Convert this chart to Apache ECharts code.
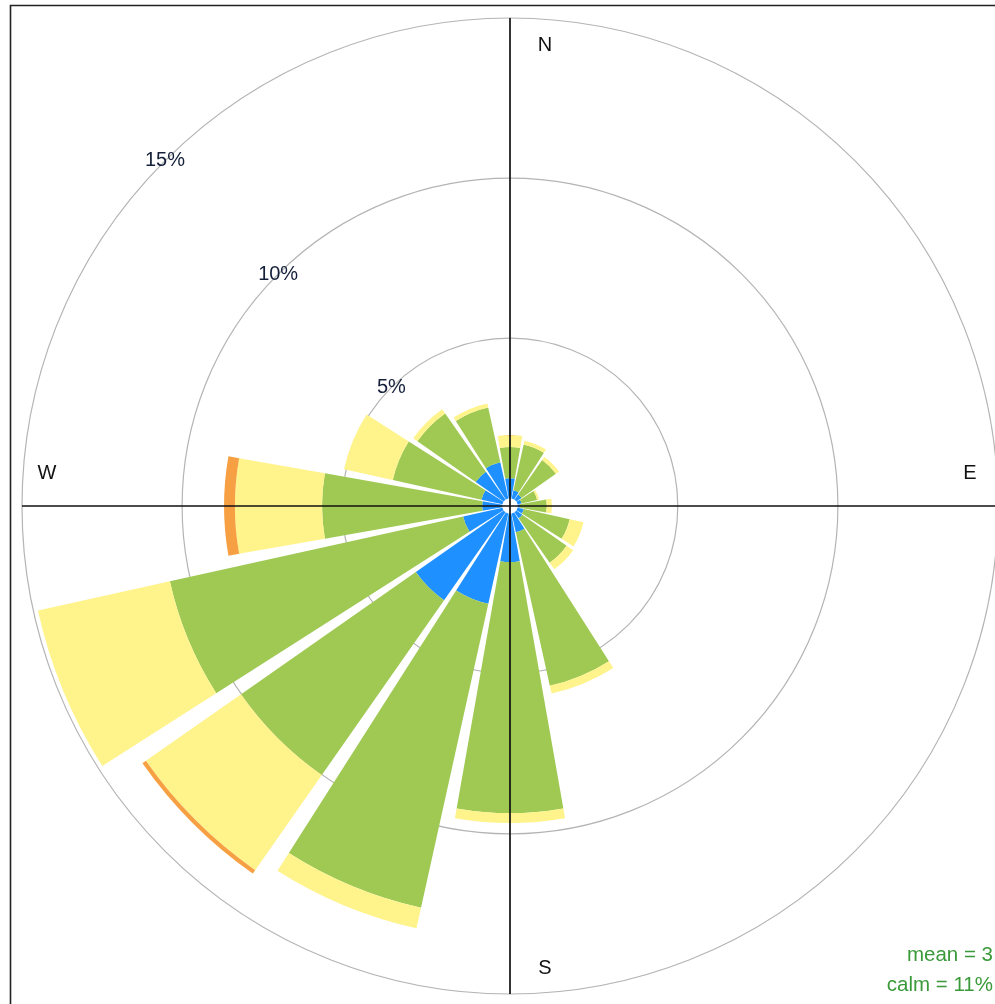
<!DOCTYPE html>
<html>
<head>
<meta charset="utf-8">
<script src="https://cdn.jsdelivr.net/npm/echarts@6/dist/echarts.min.js"></script>
<style>
  html, body { margin: 0; padding: 0; background: #ffffff; }
  #chart { width: 995px; height: 1004px; }
</style>
</head>
<body>
<div id="chart"></div>
<script>
// Wind directions (16 sectors, clockwise from north)
const directions = ['N', 'NNE', 'NE', 'ENE', 'E', 'ESE', 'SE', 'SSE', 'S', 'SSW', 'SW', 'WSW', 'W', 'WNW', 'NW', 'NNW'];

// Frequency (%) per direction for each wind-speed band
const speedBands = ['0 to 2', '2 to 4', '4 to 6', '6 to 8'];
const freqBand1 = [0.63, 0.26, 0.20, 0.13, 0.07, 0.20, 0.23, 0.60, 1.51, 2.89, 3.35, 1.26, 0.63, 0.67, 1.07, 1.16];
const freqBand2 = [0.97, 1.47, 1.31, 0.50, 0.84, 1.47, 1.69, 4.91, 7.84, 9.72, 6.66, 9.38, 5.00, 2.84, 2.22, 1.75];
const freqBand3 = [0.38, 0.12, 0.12, 0.06, 0.16, 0.44, 0.25, 0.25, 0.31, 0.66, 3.63, 4.22, 2.72, 1.56, 0.16, 0.13];
const freqBand4 = [0, 0, 0, 0, 0, 0, 0, 0, 0, 0, 0.13, 0, 0.34, 0, 0, 0];

// Grid rings and their labels
const ringLevels = [5, 10, 15];
const ringLabels = ['5%', '10%', '15%'];

// Summary statistics
const summaryLines = ['mean = 3', 'calm = 11%'];

const bandColors = ['#1E90FF', '#A0C954', '#FFF38C', '#F7A043'];
const bandData = [freqBand1, freqBand2, freqBand3, freqBand4];

const chart = echarts.init(document.getElementById('chart'), null, { renderer: 'canvas' });

const FONT = '"Liberation Sans", Arial, sans-serif';

const barSeries = speedBands.map((name, i) => ({
  name: name,
  type: 'bar',
  coordinateSystem: 'polar',
  stack: 'freq',
  data: bandData[i],
  barCategoryGap: '11%',
  itemStyle: { color: bandColors[i] },
  z: 2,
  silent: true
}));

const option = {
  animation: false,
  backgroundColor: '#ffffff',
  polar: { center: [510, 506], radius: 488 },
  angleAxis: {
    type: 'category',
    data: directions,
    startAngle: 90 + 360 / directions.length / 2,
    clockwise: true,
    axisLine: { show: false },
    axisTick: { show: false },
    axisLabel: { show: false },
    splitLine: { show: false }
  },
  radiusAxis: {
    type: 'value',
    min: -0.24,
    max: 15,
    axisLine: { show: false },
    axisTick: { show: false },
    axisLabel: { show: false },
    splitLine: { show: false }
  },
  series: [
    // concentric frequency rings
    {
      type: 'custom',
      coordinateSystem: 'polar',
      silent: true,
      z: 1,
      data: ringLevels.map(v => [v, 'N']),
      renderItem(params, api) {
        const cs = params.coordSys;
        const p = api.coord([api.value(0), api.value(1)]);
        const r = Math.hypot(p[0] - cs.cx, p[1] - cs.cy);
        return {
          type: 'circle',
          shape: { cx: cs.cx, cy: cs.cy, r: r },
          style: { fill: 'none', stroke: '#b4b4b4', lineWidth: 1.2 }
        };
      }
    },
    ...barSeries,
    // N-S and E-W axis lines
    {
      type: 'custom',
      coordinateSystem: 'polar',
      silent: true,
      z: 5,
      data: [[15, 'N'], [15, 'E']],
      renderItem(params, api) {
        const cs = params.coordSys;
        const p = api.coord([api.value(0), api.value(1)]);
        return {
          type: 'line',
          shape: { x1: p[0], y1: p[1], x2: 2 * cs.cx - p[0], y2: 2 * cs.cy - p[1] },
          style: { stroke: '#111111', lineWidth: 1.7 }
        };
      }
    },
    // ring labels along the north-west diagonal
    {
      type: 'custom',
      coordinateSystem: 'polar',
      silent: true,
      z: 6,
      data: ringLevels.map(v => [v, 'NW']),
      renderItem(params, api) {
        const p = api.coord([api.value(0), api.value(1)]);
        return {
          type: 'text',
          x: p[0],
          y: p[1],
          style: {
            text: ringLabels[params.dataIndex],
            fill: '#14203a',
            font: '20px ' + FONT,
            align: 'center',
            verticalAlign: 'middle'
          }
        };
      }
    }
  ],
  graphic: [
    {
      type: 'rect',
      shape: { x: 10.5, y: 5.5, width: 1000, height: 1010 },
      style: { fill: 'none', stroke: '#222222', lineWidth: 1.6 },
      z: 10, silent: true
    },
    { type: 'text', x: 545, y: 45, style: { text: 'N', font: '20px ' + FONT, fill: '#111', align: 'center', verticalAlign: 'middle' }, z: 10 },
    { type: 'text', x: 970, y: 473, style: { text: 'E', font: '20px ' + FONT, fill: '#111', align: 'center', verticalAlign: 'middle' }, z: 10 },
    { type: 'text', x: 545, y: 968, style: { text: 'S', font: '20px ' + FONT, fill: '#111', align: 'center', verticalAlign: 'middle' }, z: 10 },
    { type: 'text', x: 47, y: 473, style: { text: 'W', font: '20px ' + FONT, fill: '#111', align: 'center', verticalAlign: 'middle' }, z: 10 },
    { type: 'text', x: 993, y: 955, style: { text: summaryLines[0], font: '20.5px ' + FONT, fill: '#3a9a3a', align: 'right', verticalAlign: 'middle' }, z: 10 },
    { type: 'text', x: 993, y: 985, style: { text: summaryLines[1], font: '20.5px ' + FONT, fill: '#3a9a3a', align: 'right', verticalAlign: 'middle' }, z: 10 }
  ]
};

chart.setOption(option);
</script>
</body>
</html>
